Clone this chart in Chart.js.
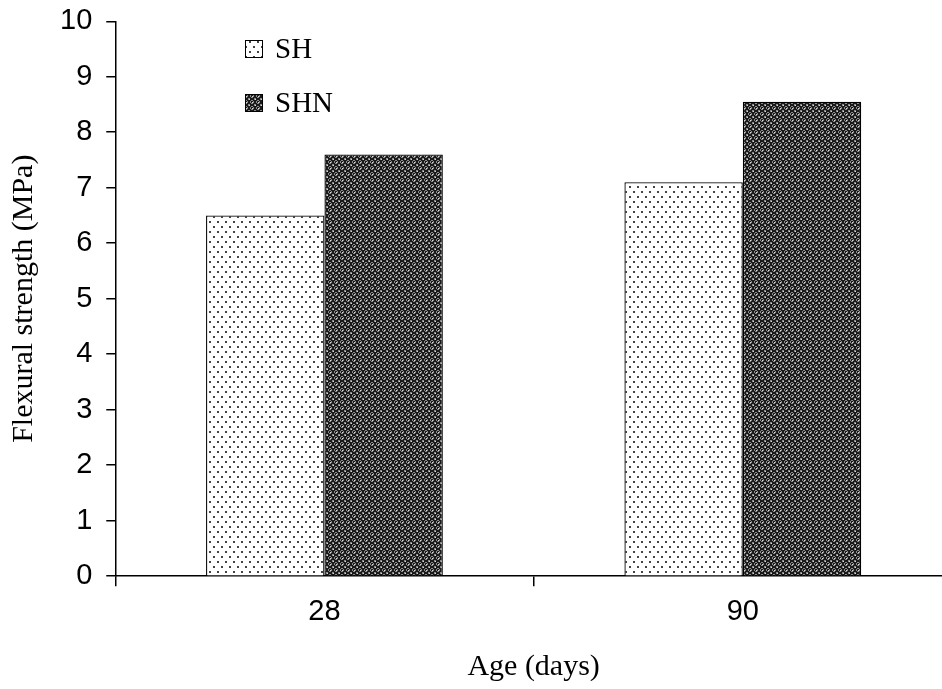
<!DOCTYPE html>
<html>
<head>
<meta charset="utf-8">
<script src="https://cdn.jsdelivr.net/npm/chart.js@4"></script>
<style>
html, body { margin: 0; padding: 0; background: #fff; overflow: hidden; }
#wrap { width: 942px; height: 689px; overflow: hidden; }
</style>
</head>
<body>
<div id="wrap"><canvas id="canvas" width="952" height="689"></canvas></div>
<script>
var ages = ["28", "90"];
var seriesNames = ["SH", "SHN"];
var shValues = [6.5, 7.1];
var shnValues = [7.6, 8.55];
var yTicks = [0, 1, 2, 3, 4, 5, 6, 7, 8, 9, 10];

// dotted fill for SH
function makeDots() {
    var c = document.createElement("canvas");
    c.width = 8; c.height = 10;
    var g = c.getContext("2d");
    g.fillStyle = "#fff";
    g.fillRect(0, 0, 8, 10);
    g.fillStyle = "#444";
    g.fillRect(1, 1, 2, 2);
    g.fillRect(5, 6, 2, 2);
    return g.createPattern(c, "repeat");
}

// dark cross-hatch fill for SHN
function makeHatch() {
    var c = document.createElement("canvas");
    c.width = 6; c.height = 6;
    var g = c.getContext("2d");
    g.fillStyle = "#1a1a1a";
    g.fillRect(0, 0, 6, 6);
    g.fillStyle = "#8a8a8a";
    g.fillRect(1, 0, 1, 1); g.fillRect(4, 0, 1, 1);
    g.fillRect(0, 1, 1, 1); g.fillRect(5, 1, 1, 1);
    g.fillRect(2, 2, 2, 2);
    g.fillRect(0, 4, 1, 1); g.fillRect(5, 4, 1, 1);
    g.fillRect(1, 5, 1, 1); g.fillRect(4, 5, 1, 1);
    g.fillStyle = "#d8d8d8";
    g.fillRect(3, 3, 1, 1);
    g.fillRect(0, 0, 1, 1);
    return g.createPattern(c, "repeat");
}

var legendInside = {
    id: "legendInside",
    afterDraw: function(chart) {
        var ctx = chart.ctx;
        var x = 245, y = 49;
        ctx.save();
        ctx.font = "29px 'Liberation Serif', serif";
        ctx.textBaseline = "middle";
        chart.data.datasets.forEach(function(ds, i) {
            var yy = y + i * 54;
            ctx.fillStyle = ds.backgroundColor;
            ctx.fillRect(x, yy - 9, 18, 18);
            ctx.strokeStyle = "#000";
            ctx.lineWidth = 1;
            ctx.strokeRect(x + 0.5, yy - 8.5, 17, 17);
            ctx.fillStyle = "#000";
            ctx.fillText(ds.label, x + 30, yy + 1);
        });
        ctx.restore();
    }
};

var ctx = document.getElementById("canvas").getContext("2d");
new Chart(ctx, {
    type: "bar",
    data: {
        labels: ages,
        datasets: [{
            label: seriesNames[0],
            data: shValues,
            backgroundColor: makeDots(),
            borderColor: "#000",
            borderWidth: 1.3
        }, {
            label: seriesNames[1],
            data: shnValues,
            backgroundColor: makeHatch(),
            borderColor: "#000",
            borderWidth: 1.3
        }]
    },
    options: {
        responsive: false,
        animation: false,
        layout: { padding: { top: 2, left: 2, right: 0, bottom: 0 } },
        datasets: { bar: { categoryPercentage: 0.566, barPercentage: 1 } },
        plugins: { legend: { display: false }, tooltip: { enabled: false } },
        scales: {
            x: {
                offset: true,
                border: { color: "#000", width: 1.5 },
                grid: { display: true, drawOnChartArea: false, offset: true, color: "#000", lineWidth: 1.5, tickLength: 10 },
                ticks: { color: "#000", font: { family: "'Liberation Sans', Arial", size: 29 }, padding: 8 },
                title: { display: true, text: "Age (days)", color: "#000", font: { family: "'Liberation Serif', serif", size: 30 }, padding: { top: 12 } }
            },
            y: {
                min: 0, max: 10,
                afterBuildTicks: function(axis) { axis.ticks = yTicks.map(function(v) { return { value: v }; }); },
                border: { color: "#000", width: 1.5 },
                grid: { display: true, drawOnChartArea: false, color: "#000", lineWidth: 1.5, tickLength: 9 },
                ticks: { color: "#000", font: { family: "'Liberation Sans', Arial", size: 29, lineHeight: 0.5 }, padding: 14 },
                title: { display: true, text: "Flexural strength (MPa)", color: "#000", font: { family: "'Liberation Serif', serif", size: 30 }, padding: { bottom: 4 } }
            }
        }
    },
    plugins: [legendInside]
});
</script>
</body>
</html>
